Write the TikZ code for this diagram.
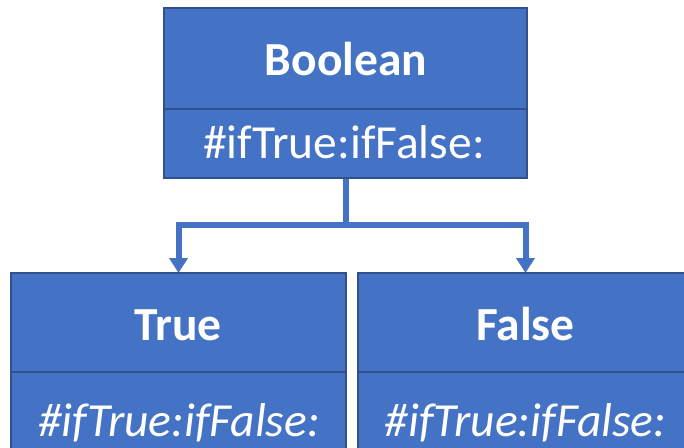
\documentclass[tikz,border=0pt]{standalone}
\usepackage{fontspec}
\setmainfont{Carlito}
\usetikzlibrary{arrows.meta}
\definecolor{boxfill}{HTML}{4472C4}
\definecolor{boxline}{HTML}{2F528F}
\newcommand{\labelsize}{\fontsize{47.5}{52}\selectfont}
\begin{document}
\begin{tikzpicture}[x=1pt,y=-1pt,
  cell/.style={rectangle, fill=boxfill, draw=boxline, line width=2pt, inner sep=0pt},
  txt/.style={anchor=base, text=white, inner sep=0pt, font=\labelsize},
  conn/.style={draw=boxfill, line width=6pt},
  tip/.style={-{Triangle[width=18pt,length=15pt]}}]
\useasboundingbox (0,0) rectangle (684,447);
% class Boolean
\node[cell, minimum width=363pt, minimum height=101pt] (bhead) at (345.5,58.5) {};
\node[cell, minimum width=363pt, minimum height=69pt] (bmeth) at (345.5,143.5) {};
% subclasses
\node[cell, minimum width=335pt, minimum height=99pt] (thead) at (178.5,322.5) {};
\node[cell, minimum width=335pt, minimum height=98pt] (tmeth) at (178.5,421) {};
\node[cell, minimum width=335pt, minimum height=99pt] (fhead) at (525.5,322.5) {};
\node[cell, minimum width=335pt, minimum height=98pt] (fmeth) at (525.5,421) {};
% labels
\node[txt, font=\labelsize\bfseries] (lbool) at (346,75) {Boolean};
\node[txt] (lbmeth) at (344,158) {\#ifTrue:ifFalse:};
\node[txt, font=\labelsize\bfseries] (ltrue) at (178,340) {True};
\node[txt, font=\labelsize\itshape] (ltmeth) at (179,436) {\#ifTrue:ifFalse:};
\node[txt, font=\labelsize\bfseries] (lfalse) at (525.5,340) {False};
\node[txt, font=\labelsize\itshape] (lfmeth) at (525.5,436) {\#ifTrue:ifFalse:};
% inheritance connectors
\coordinate (split) at (345.5,225);
\draw[conn] (bmeth.south) -- (split);
\draw[conn, tip] (split) -| ([yshift=-1pt]thead.north);
\draw[conn, tip] (split) -| ([yshift=-1pt]fhead.north);
\end{tikzpicture}
\end{document}
